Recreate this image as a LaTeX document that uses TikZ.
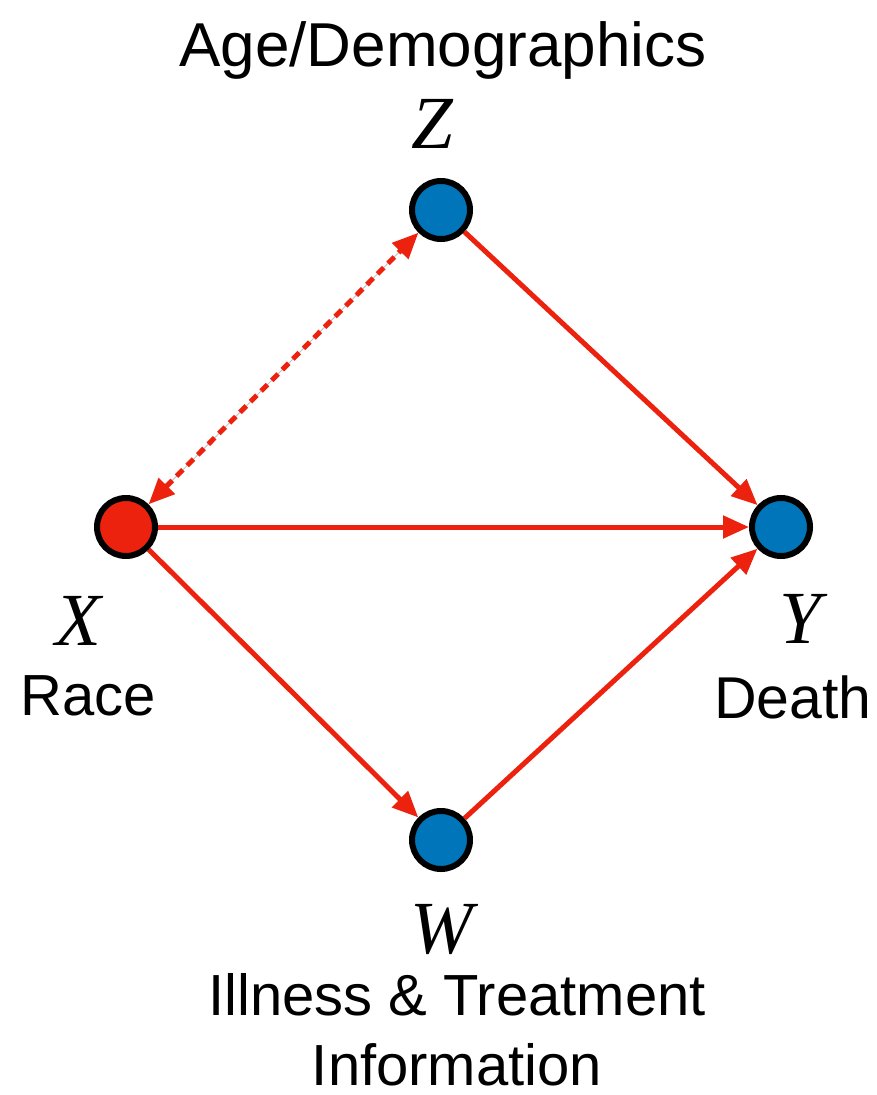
\documentclass[tikz,border=0pt]{standalone}
\usepackage{fontspec}
\setmainfont{Liberation Sans}
\newfontfamily\varfont{Liberation Serif}
\usetikzlibrary{arrows.meta}
\definecolor{nodeblue}{RGB}{0,117,186}
\definecolor{nodered}{RGB}{236,34,14}
\definecolor{edgered}{RGB}{236,34,14}
\begin{document}
\begin{tikzpicture}[x=1pt,y=-1pt,
  vnode/.style={circle,draw=black,line width=6pt,minimum size=58pt,inner sep=0pt},
  edge/.style={draw=edgered,line width=5pt,-{Triangle[length=26pt,width=22pt]}},
  biedge/.style={draw=edgered,line width=5pt,dash pattern=on 9pt off 6pt,
     {Triangle[length=26pt,width=22pt]}-{Triangle[length=26pt,width=22pt]},
     preaction={draw=black!25,line width=0.8pt,solid,shorten >=20pt,shorten <=20pt,-}},
  lab/.style={anchor=base,inner sep=0pt,font=\fontsize{58}{66}\selectfont},
  var/.style={anchor=base,inner sep=0pt,font=\varfont\itshape\fontsize{75}{80}\selectfont}]
\useasboundingbox (0,0) rectangle (877,1095);
\fill[white] (0,0) rectangle (877,1095);

\node[vnode,fill=nodeblue] (Z) at (441,210) {};
\node[vnode,fill=nodered]  (X) at (126,527) {};
\node[vnode,fill=nodeblue] (Y) at (781,527) {};
\node[vnode,fill=nodeblue] (W) at (441,840) {};

\draw[biedge] (X) -- (Z);
\draw[edge] (Z) -- (Y);
\draw[edge] (X) -- (Y);
\draw[edge] (X) -- (W);
\draw[edge] (W) -- (Y);

\node[lab,font=\fontsize{62}{66}\selectfont] (agelab) at (443,66) {Age/Demographics};
\node[var] (zlab) at (432,148) {Z};
\node[var] (xlab) at (78,645) {X};
\node[lab] (racelab) at (88,715) {Race};
\node[var] (ylab) at (800,643) {Y};
\node[lab,font=\fontsize{59}{66}\selectfont] (deathlab) at (793,718) {Death};
\node[var] (wlab) at (442,953) {W};
\node[lab] (illlab) at (457,1015) {Illness \& Treatment};
\node[lab] (infolab) at (457,1085) {Information};
\end{tikzpicture}
\end{document}
